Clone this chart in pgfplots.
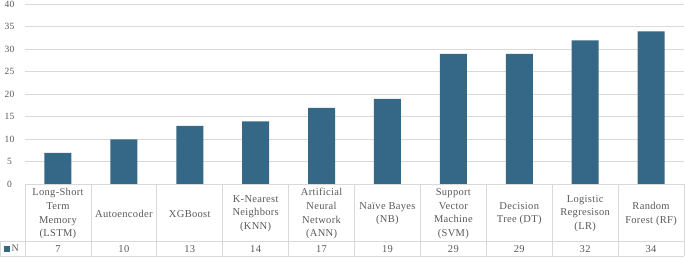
\documentclass[border=0pt]{standalone}
\usepackage{pgfplots}
\pgfplotsset{compat=1.18}
\usepackage{fontspec}
\setmainfont{Liberation Serif}
\definecolor{barblue}{RGB}{53,104,134}
\definecolor{txt}{RGB}{89,89,89}
\definecolor{gridc}{RGB}{217,217,217}
\begin{document}
\begin{tikzpicture}
\useasboundingbox (-25pt,-74.7pt) rectangle (660pt,184.3pt);
\begin{axis}[
  at={(0,0)}, anchor=south west,
  scale only axis, width=659pt, height=180pt,
  xmin=-0.5, xmax=9.5, ymin=0, ymax=40,
  ytick={0,5,...,40},
  ymajorgrids, grid style={gridc, line width=0.8pt},
  axis line style={draw=none},
  major tick length=0pt,
  xtick={0,...,9},
  xticklabels={{Long-Short\\Term\\Memory\\(LSTM)},{Autoencoder},{XGBoost},{K-Nearest\\Neighbors\\(KNN)},{Artificial\\Neural\\Network\\(ANN)},{Naïve Bayes\\(NB)},{Support\\Vector\\Machine\\(SVM)},{Decision\\Tree (DT)},{Logistic\\Regresison\\(LR)},{Random\\Forest (RF)}},
  xticklabel style={anchor=center, yshift=-29.3pt, align=center, font={\fontsize{10.5}{13.8}\selectfont\addfontfeature{LetterSpace=3}}, text=txt},
  extra x ticks={0,...,9},
  extra x tick labels={7,10,13,14,17,19,29,29,32,34},
  extra x tick style={xticklabel style={yshift=-35.6pt}, grid=none},
  yticklabel style={anchor=center, xshift=-15.5pt, font={\fontsize{9.5}{11}\selectfont\addfontfeature{LetterSpace=3}}, text=txt},
  /pgf/number format/assume math mode=true,
  clip=false,
  legend style={draw=none, fill=none, at={(0,0)}, anchor=center, xshift=-12.5pt, yshift=-64.9pt, font={\fontsize{10}{12}\selectfont}, text=txt, inner sep=0pt},
  legend image code/.code={\fill[barblue] (0pt,-2.8pt) rectangle (5.6pt,2.8pt);},
]
\addplot[ybar, bar width=27pt, fill=barblue, draw=none] coordinates {
 (0,7) (1,10) (2,13) (3,14) (4,17) (5,19) (6,29) (7,29) (8,32) (9,34)};
\addlegendentry{N}
\end{axis}
\begin{scope}[gridc, line width=0.8pt]
\foreach \i in {0,...,10} \draw (\i*65.9pt,0pt) -- (\i*65.9pt,-72pt);
\draw (0pt,0pt) -- (659pt,0pt);
\draw (-24.6pt,-57.5pt) -- (659pt,-57.5pt);
\draw (-24.6pt,-72pt) -- (659pt,-72pt);
\draw (-24.6pt,-57.5pt) -- (-24.6pt,-72pt);
\end{scope}
\end{tikzpicture}
\end{document}
